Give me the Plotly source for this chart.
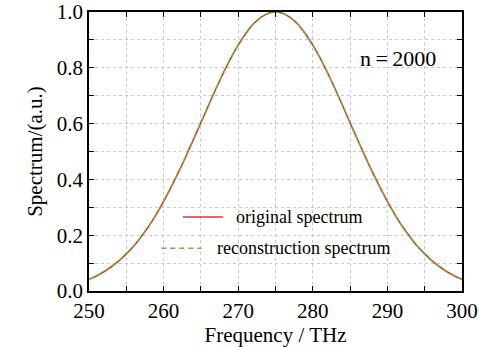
import plotly.graph_objects as go

# Data (THz, normalized spectrum)
freq = [250, 251, 252, 253, 254, 255, 256, 257, 258, 259, 260, 261, 262, 263, 264,
        265, 266, 267, 268, 269, 270, 271, 272, 273, 274, 275, 276, 277, 278, 279,
        280, 281, 282, 283, 284, 285, 286, 287, 288, 289, 290, 291, 292, 293, 294,
        295, 296, 297, 298, 299, 300]
half = [0.042, 0.054, 0.069, 0.087, 0.108, 0.133, 0.161, 0.195, 0.232, 0.274,
        0.321, 0.372, 0.426, 0.483, 0.543, 0.603, 0.664, 0.724, 0.781, 0.834,
        0.881, 0.922, 0.956, 0.980, 0.995]
original = half + [1.0] + half[::-1]
reconstruction = list(original)

x_tickvals = [250, 255, 260, 265, 270, 275, 280, 285, 290, 295, 300]
x_ticktext = ["250", "", "260", "", "270", "", "280", "", "290", "", "300"]
y_tickvals = [0.0, 0.1, 0.2, 0.3, 0.4, 0.5, 0.6, 0.7, 0.8, 0.9, 1.0]
y_ticktext = ["0.0", "", "0.2", "", "0.4", "", "0.6", "", "0.8", "", "1.0"]

RED = "#e8332d"
GREEN = "#5cb946"
FONT = "Liberation Serif, Times New Roman, serif"

fig = go.Figure()
fig.add_trace(go.Scatter(x=freq, y=original, mode="lines", line_shape="spline",
                         line=dict(color=RED, width=1.6), name="original spectrum",
                         showlegend=False))
fig.add_trace(go.Scatter(x=freq, y=reconstruction, mode="lines", line_shape="spline",
                         line=dict(color=GREEN, width=1.6, dash="5px,4px"),
                         name="reconstruction spectrum", showlegend=False))

axis_common = dict(
    showline=True, linecolor="black", linewidth=1.5, mirror="ticks",
    ticks="inside", ticklen=5, tickwidth=1.2, tickcolor="black",
    showgrid=True, gridcolor="#c8c8c8", gridwidth=1, griddash="dot",
    zeroline=False, automargin=False,
    tickfont=dict(family=FONT, size=21, color="black"),
)

fig.update_xaxes(range=[250, 300], tickvals=x_tickvals, ticktext=x_ticktext,
                 title=dict(text="Frequency / THz", font=dict(family=FONT, size=21, color="black"),
                            standoff=4),
                 **axis_common)
fig.update_yaxes(range=[0, 1], tickvals=y_tickvals, ticktext=y_ticktext,
                 title=dict(text="Spectrum/(a.u.)", font=dict(family=FONT, size=21, color="black"),
                            standoff=8),
                 **axis_common)

# Legend drawn as separate rows (as in the reference)
fig.add_shape(type="line", xref="paper", yref="paper", x0=0.252, x1=0.359, y0=0.265, y1=0.265,
              line=dict(color=RED, width=1.6))
fig.add_annotation(xref="paper", yref="paper", x=0.39, y=0.265, xanchor="left", yanchor="middle",
                   text="original spectrum", showarrow=False,
                   font=dict(family=FONT, size=18, color="black"))
fig.add_shape(type="line", xref="paper", yref="paper", x0=0.194, x1=0.302, y0=0.153, y1=0.153,
              line=dict(color=GREEN, width=1.6, dash="5px,4px"))
fig.add_annotation(xref="paper", yref="paper", x=0.338, y=0.153, xanchor="left", yanchor="middle",
                   text="reconstruction spectrum", showarrow=False,
                   font=dict(family=FONT, size=18, color="black"))

fig.add_annotation(xref="paper", yref="paper", x=0.722, y=0.835, xanchor="left", yanchor="middle",
                   text="n\u2009=\u20092000", showarrow=False,
                   font=dict(family=FONT, size=22, color="black"))

fig.update_layout(
    template="none",
    width=479, height=347,
    margin=dict(l=89, r=17, t=12, b=56),
    paper_bgcolor="white", plot_bgcolor="white",
    showlegend=False,
    font=dict(family=FONT, color="black"),
)

fig.write_html("out.html")
